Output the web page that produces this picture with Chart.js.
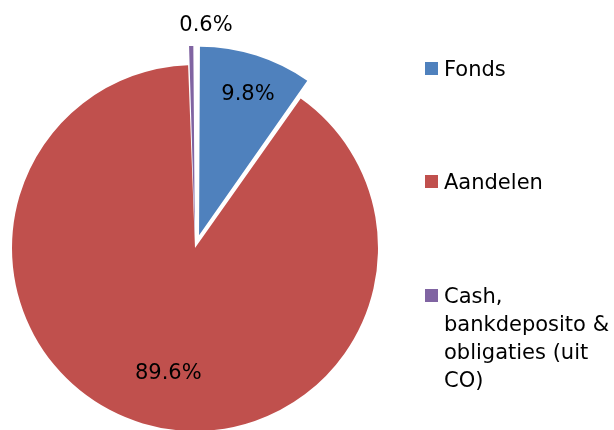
<!DOCTYPE html>
<html>
<head>
<meta charset="utf-8">
<script src="https://cdn.jsdelivr.net/npm/chart.js@4/dist/chart.umd.min.js"></script>
<style>
  html, body { margin: 0; padding: 0; background: #fff; }
  #wrap { position: relative; width: 614px; height: 430px; overflow: hidden; }
  #legend { position: absolute; left: 0; top: 0; font-family: "DejaVu Sans", sans-serif; font-size: 21px; color: #000; }
  .item { position: absolute; left: 425px; width: 189px; line-height: 28px; }
  .box { position: absolute; left: 0; top: 7px; width: 13px; height: 13px; }
  .txt { position: absolute; left: 19px; width: 168px; }
</style>
</head>
<body>
<div id="wrap">
  <canvas id="pie" width="614" height="430"></canvas>
  <div id="legend"></div>
</div>
<script>
const labels = ["Fonds", "Aandelen", "Cash, bankdeposito & obligaties (uit CO)"];
const shares = [9.8, 89.6, 0.6];
const colors = ["#4F81BD", "#C0504D", "#8064A2"];

// how far each slice is pulled out (px) and where its label sits
const explodePx = [19, 0, 19];
const labelRadius = [0.784, 0.704, 1.114];
const labelTurn = [1.4, -4.6, 3.9];
const legendTop = [55, 168, 282];

const total = shares.reduce((a, b) => a + b, 0);
// Chart.js moves an arc by offset/4 * (1 + fix), so invert that
const offsets = shares.map((v, i) => {
  const circ = (v / total) * Math.PI * 2;
  const fix = 1 - Math.sin(Math.min(Math.PI, circ));
  return (4 * explodePx[i]) / (1 + fix);
});

const labelPlugin = {
  id: "sliceLabels",
  afterDatasetsDraw(chart) {
    const ctx = chart.ctx;
    const meta = chart.getDatasetMeta(0);
    ctx.save();
    ctx.font = '21px "DejaVu Sans", sans-serif';
    ctx.fillStyle = "#000";
    ctx.textAlign = "center";
    ctx.textBaseline = "middle";
    meta.data.forEach((arc, i) => {
      const p = arc.getProps(["x", "y", "startAngle", "endAngle", "outerRadius"], true);
      const mid = (p.startAngle + p.endAngle) / 2;
      const a = mid + (labelTurn[i] * Math.PI) / 180;
      const d = explodePx[i] + p.outerRadius * labelRadius[i];
      const x = p.x + Math.cos(a) * d;
      const y = p.y + Math.sin(a) * d;
      ctx.fillText(shares[i].toFixed(1) + "%", x, y);
    });
    ctx.restore();
  },
};

new Chart(document.getElementById("pie").getContext("2d"), {
  type: "pie",
  data: {
    labels,
    datasets: [
      {
        data: shares,
        backgroundColor: colors,
        borderWidth: 0,
        offset: offsets,
        clip: false,
      },
    ],
  },
  options: {
    responsive: false,
    animation: false,
    radius: 183,
    layout: { padding: { left: 0, right: 224, top: 66, bottom: 0 } },
    plugins: {
      legend: { display: false },
      tooltip: { enabled: false },
    },
  },
  plugins: [labelPlugin],
});

const legend = document.getElementById("legend");
labels.forEach((name, i) => {
  const item = document.createElement("div");
  item.className = "item";
  item.style.top = legendTop[i] + "px";
  item.innerHTML = `<span class="box" style="background:${colors[i]}"></span><span class="txt"></span>`;
  item.querySelector(".txt").textContent = name;
  legend.appendChild(item);
});
</script>
</body>
</html>
